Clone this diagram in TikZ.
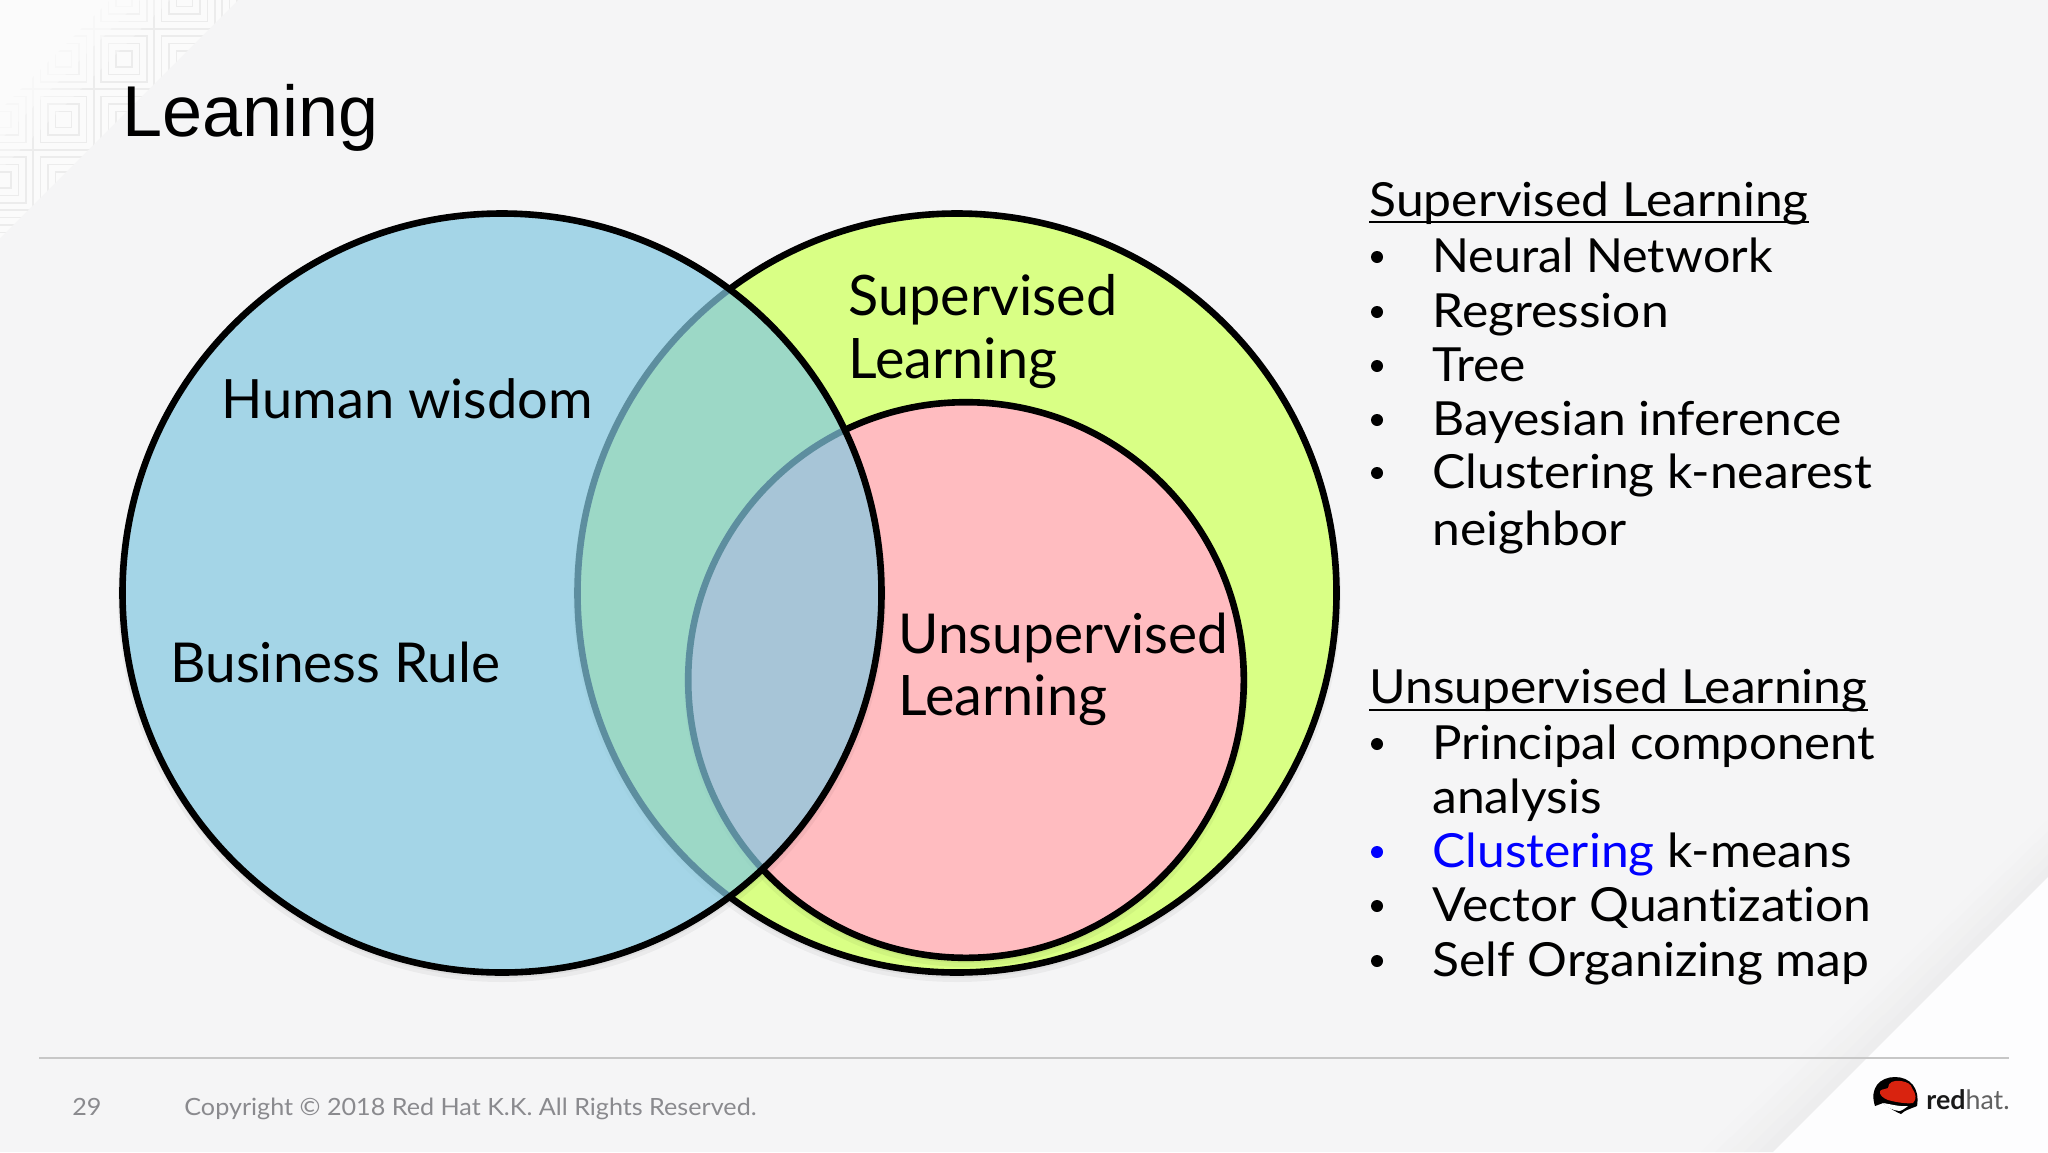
\documentclass[tikz,border=0pt]{standalone}
\usepackage{fontspec}
\setmainfont{Lato}[Ligatures=NoCommon]
\newfontfamily\titlefont{Liberation Sans}
\newfontfamily\listfont{Lato}[FakeStretch=1.06,Ligatures=NoCommon]
\newfontfamily\listtight{Lato}[FakeStretch=1.03,Ligatures=NoCommon]
\newfontfamily\listmid{Lato}[FakeStretch=1.047,Ligatures=NoCommon]
\usetikzlibrary{calc}
\definecolor{pagebg}{HTML}{F5F5F6}
\definecolor{cornerbg}{HTML}{FBFBFB}
\definecolor{lightbg}{HTML}{FDFDFE}
\definecolor{bandbg}{HTML}{EDEDEE}
\definecolor{patone}{HTML}{F7F7F7}
\definecolor{pattwo}{HTML}{F2F2F2}
\definecolor{patthree}{HTML}{ECECEC}
\definecolor{bluefill}{RGB}{132,201,225}
\definecolor{greenfill}{HTML}{D9FF85}
\definecolor{pinkfill}{HTML}{FFBCC0}
\definecolor{footgray}{HTML}{8A8A8E}
\definecolor{hatred}{HTML}{D9230F}
\tikzset{
  x=0.5pt,y=-0.5pt,
  vennlabel/.style={anchor=base west,inner sep=0pt,font=\fontsize{27.5}{27.5}\selectfont},
  vennlabelwide/.style={anchor=base west,inner sep=0pt,font=\fontsize{27.9}{27.9}\selectfont},
  vennlabelnarrow/.style={anchor=base west,inner sep=0pt,font=\fontsize{27.1}{27.1}\selectfont},
  listhead/.style={anchor=base west,inner sep=0pt,font=\listfont\fontsize{23.5}{23.5}\selectfont},
  listitem/.style={anchor=base west,inner sep=0pt,font=\listfont\fontsize{23.5}{23.5}\selectfont},
  bulletdot/.style={circle,fill=black,inner sep=0pt,minimum size=6pt},
  footnote/.style={anchor=base west,inner sep=0pt,text=footgray,font=\listfont\fontsize{11.87}{11.87}\selectfont},
  vennedge/.style={line width=3.3pt,draw=black},
  under/.style={line width=1.1pt,draw=black},
  softshadow/.style={fill=black,fill opacity=.045,even odd rule},
}
\begin{document}
\begin{tikzpicture}
\useasboundingbox (0,0) rectangle (2048,1152);
% background
\fill[pagebg] (0,0) rectangle (2048,1152);
\fill[cornerbg] (0,0) -- (238,0) -- (0,238) -- cycle;
\foreach \sa/\sb/\col in {110/140/patone,140/170/pattwo,170/238/patthree}{
  \begin{scope}
    \clip (\sa,0) -- (\sb,0) -- (0,\sb) -- (0,\sa) -- cycle;
    \foreach \i in {-2,...,2}{
      \foreach \j in {-1,...,3}{
        \foreach \h in {30,23,15.5,8}{
          \draw[draw=\col,line width=.6pt,shift={({124+60.5*\i},{59+60.5*\j})}] (-\h,-\h) rectangle (\h,\h);
        }
      }
    }
  \end{scope}
}
\foreach \t/\k in {0/15,0.2/35,0.4/55,0.6/75,0.8/95}{
  \fill[bandbg!\k!pagebg] (2048,{820+57*\t}) -- ({1701+72*\t},1152) -- ({1701+72*(\t+.205)},1152) -- (2048,{820+57*(\t+.205)}) -- cycle;
}
\fill[lightbg] (2048,877) -- (1773,1152) -- (2048,1152) -- cycle;
% circles
\path[softshadow] (957,598) circle [radius=384] (957,593) circle [radius=380];
\path[softshadow] (957,596) circle [radius=382] (957,593) circle [radius=380];
\node[circle,inner sep=0pt,minimum size=379.5pt,fill=greenfill,vennedge] (green) at (957,593) {};
\path[softshadow] (966,685) circle [radius=282] (966,680) circle [radius=278];
\path[softshadow] (966,683) circle [radius=280] (966,680) circle [radius=278];
\node[circle,inner sep=0pt,minimum size=277.8pt,fill=pinkfill,vennedge] (pink) at (966,680) {};
\path[softshadow] (502,598) circle [radius=384] (502,593) circle [radius=380];
\path[softshadow] (502,596) circle [radius=382] (502,593) circle [radius=380];
\node[circle,inner sep=0pt,minimum size=379.5pt,fill=bluefill,fill opacity=.71,vennedge] (blue) at (502,593) {};
% title
\node[anchor=base west,inner sep=0pt,font=\titlefont\fontsize{36}{36}\selectfont] (title) at (122,136) {Leaning};
% venn labels
\node[vennlabelnarrow] (human) at (221,418) {Human wisdom};
\node[vennlabel] (business) at (170,682) {Business Rule};
\node[vennlabelwide] (sup1) at (848,315) {Supervised};
\node[vennlabelwide] (sup2) at (848,378) {Learning};
\node[vennlabel] (uns1) at (898,653) {Unsupervised};
\node[vennlabelwide] (uns2) at (898,715) {Learning};
% supervised list
\node[listhead] (suphead) at (1369,216) {Supervised Learning};
\draw[under] ($(suphead.base west)+(0,6)$) -- ($(suphead.base east)+(0,6)$);
\foreach \name/\yy/\txt in {a/272/{\listtight Neural Network},b/327/Regression,c/381/Tree,d/435/Bayesian inference,e/488/Clustering k-nearest}{
  \node[listitem] (s\name) at (1432,\yy) {\txt};
  \node[bulletdot] (sb\name) at (1377,\yy-15) {};
}
\node[listitem] (sf) at (1432,545) {neighbor};
% unsupervised list
\node[listhead] (unshead) at (1369,703) {Unsupervised Learning};
\draw[under] ($(unshead.base west)+(0,7)$) -- ($(unshead.base east)+(0,7)$);
\foreach \name/\yy/\txt in {a/759/{\listmid Principal component},d/921/Vector Quantization,e/976/Self Organizing map}{
  \node[listitem] (u\name) at (1432,\yy) {\txt};
  \node[bulletdot] (ub\name) at (1377,\yy-15) {};
}
\node[listitem] (ub) at (1432,813) {analysis};
\node[listitem] (uc) at (1432,867) {\textcolor{blue}{Clustering} k-means};
\node[bulletdot,fill=blue] (ubc) at (1377,852) {};
% footer
\draw[draw=black!22,line width=.7pt] (39,1058) coordinate (fl) -- (2009,1058) coordinate (fr);
\node[footnote] (page) at (72,1115) {29};
\node[footnote] (copy) at (184,1115) {Copyright © 2018 Red Hat K.K. All Rights Reserved.};
% logo
\fill[black] (1875,1106) .. controls (1869,1088) and (1880,1077) .. (1895,1077)
  .. controls (1910,1077) and (1920,1088) .. (1917,1106)
  .. controls (1910,1109) and (1905,1110) .. (1901,1114)
  .. controls (1896,1112) and (1889,1108) .. (1883,1103) -- cycle;
\fill[lightbg] (1883,1103) .. controls (1890,1104) and (1900,1107) .. (1908,1106)
  .. controls (1904,1109) and (1901,1111) .. (1899,1111)
  .. controls (1893,1110) and (1887,1108) .. (1883,1103) -- cycle;
\fill[hatred] (1880,1091) .. controls (1883,1088) and (1886,1090) .. (1888,1088)
  .. controls (1888,1082) and (1894,1080) .. (1901,1081)
  .. controls (1907,1082) and (1911,1084) .. (1912,1088)
  .. controls (1916,1094) and (1917,1099) .. (1913,1103)
  .. controls (1906,1104) and (1895,1102) .. (1888,1100)
  .. controls (1883,1098) and (1879,1095) .. (1880,1091) -- cycle;
\node[anchor=base west,inner sep=0pt,text=black!90,font=\fontsize{13.4}{13.4}\selectfont] (logo) at (1926,1109) {\textbf{red}\textcolor{black!62}{hat.}};
\end{tikzpicture}
\end{document}
